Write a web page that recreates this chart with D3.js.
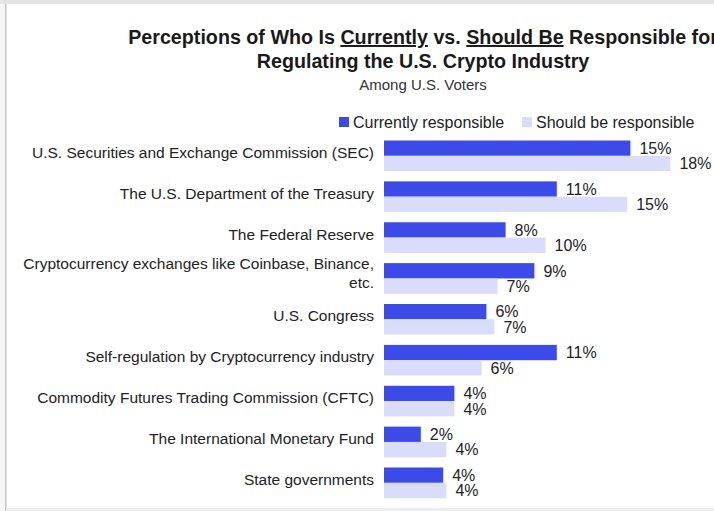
<!DOCTYPE html>
<html>
<head>
<meta charset="utf-8">
<script src="https://cdn.jsdelivr.net/npm/d3@7"></script>
<style>
  html, body { margin: 0; padding: 0; background: #ffffff; }
  svg { display: block; }
</style>
</head>
<body>
<div id="chart"></div>
<script>
// ---- Data ----
const categories = [
  "U.S. Securities and Exchange Commission (SEC)",
  "The U.S. Department of the Treasury",
  "The Federal Reserve",
  "Cryptocurrency exchanges like Coinbase, Binance, etc.",
  "U.S. Congress",
  "Self-regulation by Cryptocurrency industry",
  "Commodity Futures Trading Commission (CFTC)",
  "The International Monetary Fund",
  "State governments"
];
const seriesNames = ["Currently responsible", "Should be responsible"];
const currentlyValues = [0.154, 0.108, 0.076, 0.094, 0.064, 0.108, 0.044, 0.023, 0.037];
const shouldBeValues  = [0.179, 0.152, 0.101, 0.071, 0.069, 0.061, 0.044, 0.039, 0.039];
const xDomain = [0, 0.20];

const W = 714, H = 511;
const colors = { current: "#3C4AE8", should: "#D9DCFA" };
const labelFont = "'Liberation Sans', Arial, sans-serif";

const svg = d3.select("#chart").append("svg")
  .attr("width", W).attr("height", H);

// frame
svg.append("rect").attr("x", 0).attr("y", 0).attr("width", W).attr("height", 4).attr("fill", "#e4e4e4");
svg.append("rect").attr("x", 0).attr("y", 4).attr("width", 5).attr("height", H - 4).attr("fill", "#f6f6f6");
svg.append("rect").attr("x", 5).attr("y", 4).attr("width", 1.5).attr("height", H - 4).attr("fill", "#c4c4c4");
svg.append("rect").attr("x", 6).attr("y", 508).attr("width", W - 6).attr("height", 3).attr("fill", "#ececec");

// ---- Title ----
const title = svg.append("text")
  .attr("x", 423).attr("y", 44)
  .attr("text-anchor", "middle")
  .attr("font-family", labelFont)
  .attr("font-weight", "bold")
  .attr("font-size", 19.7)
  .attr("fill", "#1a1a1a");
[["Perceptions of Who Is ", false], ["Currently", true], [" vs. ", false], ["Should Be", true], [" Responsible for", false]]
  .forEach(([t, u]) => title.append("tspan").text(t).attr("text-decoration", u ? "underline" : null));
svg.append("text")
  .attr("x", 423).attr("y", 68)
  .attr("text-anchor", "middle")
  .attr("font-family", labelFont)
  .attr("font-weight", "bold")
  .attr("font-size", 19.7)
  .attr("fill", "#1a1a1a")
  .text("Regulating the U.S. Crypto Industry");
svg.append("text")
  .attr("x", 423).attr("y", 90)
  .attr("text-anchor", "middle")
  .attr("font-family", labelFont)
  .attr("font-size", 15)
  .attr("fill", "#333")
  .text("Among U.S. Voters");

// ---- Legend ----
const legendX = [339, 522];
seriesNames.forEach((name, i) => {
  const g = svg.append("g").attr("transform", `translate(${legendX[i]},117)`);
  g.append("rect").attr("width", 10).attr("height", 10)
    .attr("fill", i === 0 ? colors.current : colors.should);
  g.append("text").attr("x", 14).attr("y", 10.8)
    .attr("font-family", labelFont).attr("font-size", 16).attr("fill", "#222")
    .text(name);
});

// ---- Scales ----
const x = d3.scaleLinear().domain(xDomain).range([384, 704]);
const y = d3.scaleBand().domain(categories)
  .range([140.5, 140.5 + 40.875 * 8.75])
  .paddingInner(0.25).paddingOuter(0);
const ySub = d3.scaleBand().domain(seriesNames).range([0, y.bandwidth()]);

const rows = categories.map((c, i) => ({ cat: c, values: [currentlyValues[i], shouldBeValues[i]] }));
const fmt = d3.format(".0%");

const groups = svg.append("g").selectAll("g.row").data(rows).join("g")
  .attr("class", "row")
  .attr("transform", d => `translate(0,${y(d.cat)})`);

groups.selectAll("rect.bar").data(d => d.values.map((v, j) => ({ v, s: seriesNames[j], j })))
  .join("rect").attr("class", "bar")
  .attr("x", x(0))
  .attr("y", d => ySub(d.s))
  .attr("width", d => x(d.v) - x(0))
  .attr("height", ySub.bandwidth())
  .attr("fill", d => d.j === 0 ? colors.current : colors.should);

groups.selectAll("text.val").data(d => d.values.map((v, j) => ({ v, s: seriesNames[j], j })))
  .join("text").attr("class", "val")
  .attr("x", d => x(d.v) + 9)
  .attr("y", d => ySub(d.s) + ySub.bandwidth() / 2)
  .attr("dy", "0.36em")
  .attr("font-family", labelFont)
  .attr("font-size", 16)
  .attr("fill", "#222")
  .text(d => fmt(d.v));

// ---- Category labels with wrapping ----
const maxLabelWidth = 362;
groups.each(function (d) {
  const g = d3.select(this);
  const t = g.append("text")
    .attr("text-anchor", "end")
    .attr("font-family", labelFont)
    .attr("font-size", 15.5)
    .attr("fill", "#222");
  const words = d.cat.split(" ");
  let lines = [], line = [];
  const probe = t.append("tspan");
  words.forEach(w => {
    line.push(w);
    probe.text(line.join(" "));
    if (probe.node().getComputedTextLength() > maxLabelWidth && line.length > 1) {
      line.pop();
      lines.push(line.join(" "));
      line = [w];
    }
  });
  lines.push(line.join(" "));
  probe.remove();
  const lh = 19;
  const base = y.bandwidth() / 2 + 2 - (lines.length - 1) * lh / 2 - (lines.length > 1 ? 1.5 : 0);
  lines.forEach((ln, k) => {
    t.append("tspan").attr("x", 374).attr("y", base + k * lh).text(ln);
  });
});
</script>
</body>
</html>
